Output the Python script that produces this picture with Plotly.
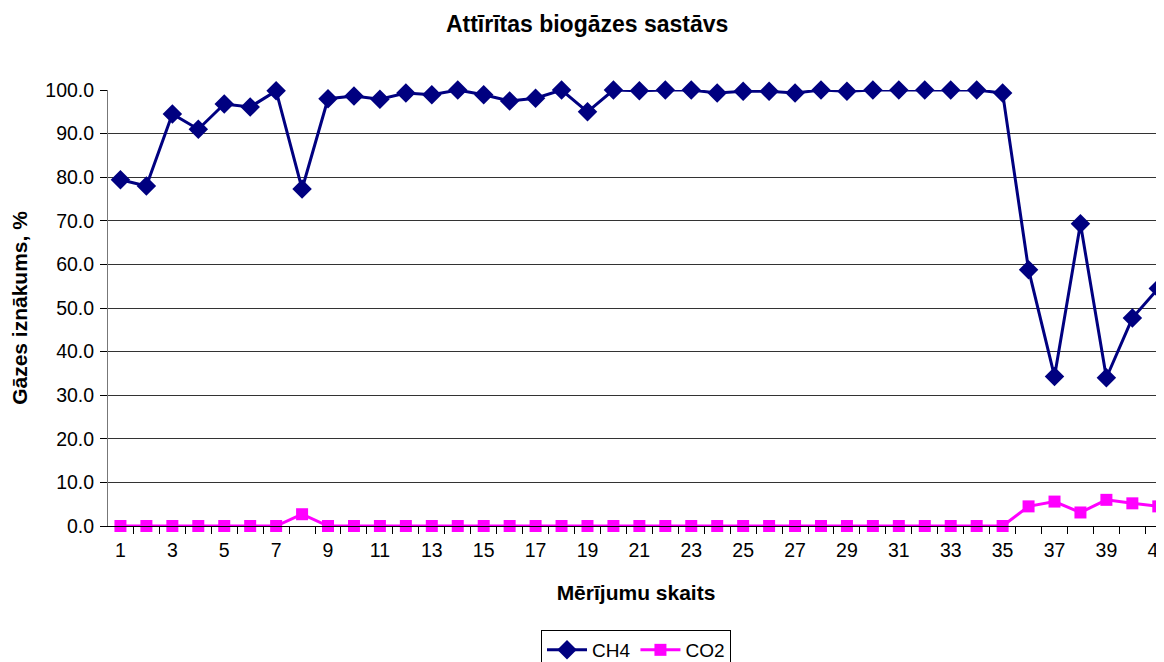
import plotly.graph_objects as go

measurements = list(range(1, 42))
ch4 = [79.4, 78.0, 94.5, 91.0, 96.8, 96.1, 99.8, 77.3, 98.0, 98.6,
       97.9, 99.3, 98.9, 100.0, 98.9, 97.5, 98.1, 100.0, 95.0, 100.0,
       99.8, 100.0, 100.0, 99.3, 99.7, 99.7, 99.3, 100.0, 99.7, 100.0,
       100.0, 100.0, 100.0, 100.0, 99.3, 58.8, 34.3, 69.3, 34.0, 47.7,
       54.5]
co2 = [0.0, 0.0, 0.0, 0.0, 0.0, 0.0, 0.0, 2.7, 0.0, 0.0,
       0.0, 0.0, 0.0, 0.0, 0.0, 0.0, 0.0, 0.0, 0.0, 0.0,
       0.0, 0.0, 0.0, 0.0, 0.0, 0.0, 0.0, 0.0, 0.0, 0.0,
       0.0, 0.0, 0.0, 0.0, 0.0, 4.5, 5.6, 3.1, 6.0, 5.2,
       4.5]
x_ticks = list(range(1, 42, 2))
y_ticks = list(range(0, 101, 10))

font = "Liberation Sans, Arial, sans-serif"

fig = go.Figure()
fig.add_trace(go.Scatter(x=measurements, y=ch4, name="CH4", mode="lines+markers",
                         line=dict(color="#000080", width=3), cliponaxis=False,
                         marker=dict(symbol="diamond", size=15, color="#000080")))
fig.add_trace(go.Scatter(x=measurements, y=co2, name="CO2", mode="lines+markers",
                         line=dict(color="#FF00FF", width=3), cliponaxis=False,
                         marker=dict(symbol="square", size=12, color="#FF00FF")))

fig.update_layout(
    width=1156, height=654,
    margin=dict(l=100, r=0, t=82, b=136, autoexpand=False),
    paper_bgcolor="white", plot_bgcolor="white",
    font=dict(family=font, size=19, color="black"),
    title=dict(text="<b>Attīrītas biogāzes sastāvs</b>", x=0.501, xanchor="center",
               y=1 - 16 / 654, yanchor="middle", font=dict(size=23, family=font)),
    showlegend=True,
    legend=dict(orientation="h", x=0.5, xanchor="center", y=-0.2385, yanchor="top",
                bordercolor="black", borderwidth=1, font=dict(size=19),
                itemwidth=40, tracegroupgap=0),
    xaxis=dict(range=[0.52, 41.22], tickmode="array", tickvals=x_ticks,
               ticktext=[str(v) for v in x_ticks], ticks="", showgrid=False,
               automargin=False, ticklabeloverflow="allow", ticklabelstandoff=7,
               zeroline=False, showline=True, linecolor="black", linewidth=1,
               minor=dict(tick0=0.5, dtick=1, ticks="outside", ticklen=7,
                          tickcolor="black", showgrid=False),
               title=dict(text="<b>Mērījumu skaits</b>", font=dict(size=21), standoff=24),
               tickfont=dict(size=19.5)),
    yaxis=dict(range=[0, 100], tickmode="array", tickvals=y_ticks,
               ticktext=[f"{v:.1f}" for v in y_ticks], ticks="outside", ticklen=7,
               automargin=False, ticklabelstandoff=2,
               tickcolor="black", showgrid=True, gridcolor="#333333", gridwidth=1,
               zeroline=False, showline=True, linecolor="#777777", linewidth=1,
               title=dict(text="<b>Gāzes iznākums, %</b>", font=dict(size=21), standoff=27),
               tickfont=dict(size=19.5)),
)

fig.write_html("out.html")
